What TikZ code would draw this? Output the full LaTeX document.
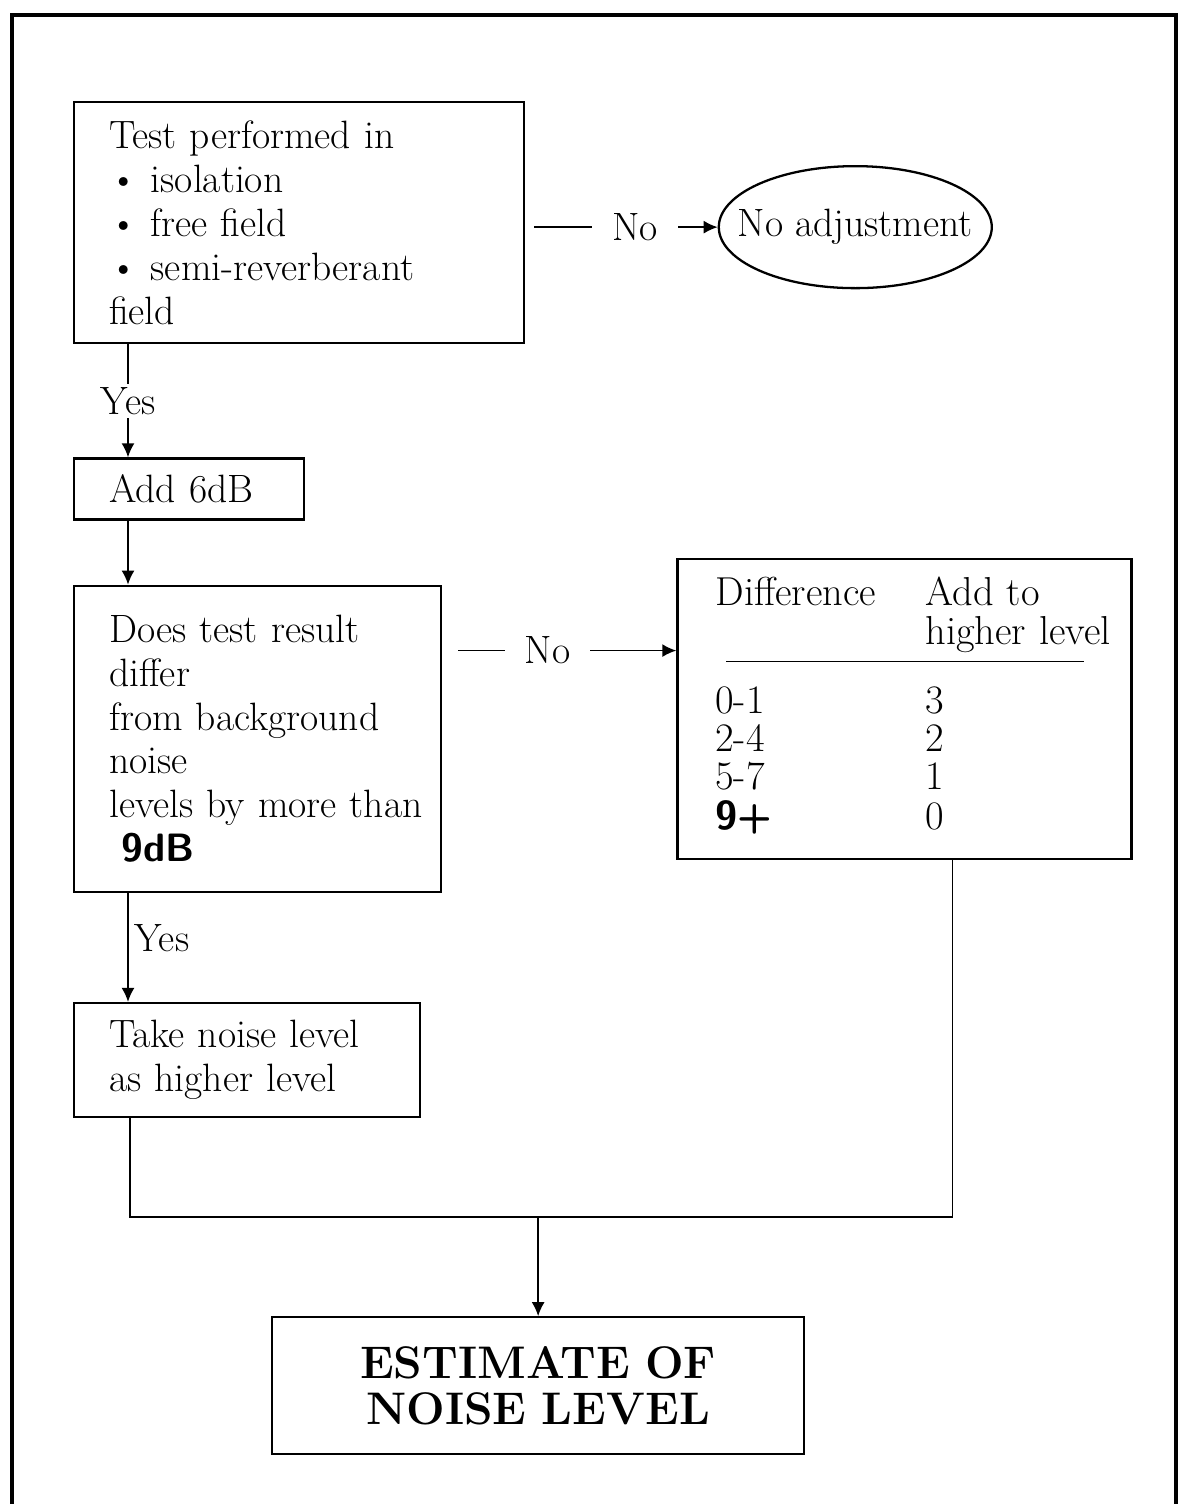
\documentclass[tikz,border=0pt]{standalone}
\usepackage{fontspec}
\usepackage{tikz}
\usetikzlibrary{arrows.meta,positioning,shapes.geometric,calc}
\newcommand{\bodysize}{\fontsize{22.5}{25}\selectfont}
\newcommand{\tablesize}{\fontsize{23}{20.9}\selectfont}
\tikzstyle{etape} = [draw, line width=1.3pt, align=left, inner xsep=0.7cm,
inner ysep=0pt, font=\bodysize, anchor=north west]
\tikzstyle{resultat} = [etape, align=center, inner xsep=0pt,
font=\bfseries\fontsize{26}{26.7}\selectfont]
\tikzstyle{ovale} = [draw, ellipse, line width=1.3pt, minimum width=5.46cm,
minimum height=2.44cm, inner sep=0pt, font=\bodysize]
\tikzstyle{texto} = [fill=white, inner xsep=0.4cm, inner ysep=2pt, font=\bodysize]
\tikzstyle{line} = [draw, line width=0.9pt, -{Latex[length=0.28cm, width=0.26cm]}]
\newcommand{\etape}[3]{node (p#2)[etape,#1]{#3}}
\newcommand{\ovale}[2]{node (p#1)[ovale]{\makebox[0pt]{#2}}}
\newcommand{\resultat}[2]{node (p#1)[resultat,text width=10.64cm,minimum height=2.74cm]{#2}}
\begin{document}
\begin{tikzpicture}
	\useasboundingbox (0,0) rectangle (23.58,-30.08);
	% outer frame, open at the bottom
	\draw[line width=2.2pt] (0.24,-30.08) -- (0.24,-0.30) -- (23.52,-0.30) -- (23.52,-30.08);
	
	% Draw diagram elements
	\path (1.46,-2.02) \etape{text width=7.6cm, minimum height=4.82cm}{1}{Test performed in\\
		\textbullet\ isolation\\ \textbullet\ free field\\ \textbullet\ semi-reverberant\\ field};
	\path (p1.east)+(6.6,-0.09) \ovale{5}{No adjustment};
	\path (p1.south west)+(0,-2.26) \etape{text width=3.2cm, minimum height=1.22cm}{2}{Add 6dB};
	\path (p2.south west)+(0,-1.28) \etape{text width=5.94cm, minimum height=6.12cm}{3}{Does test result\\
		differ\\ from background\\ noise\\ levels~by~more~than\\ \hspace*{0.25cm}\textsf{\bfseries 9dB}};
	\path (p3.north east)+(4.68,0.54) \etape{text width=7.56cm, inner xsep=0.76cm, minimum height=6.0cm}{6}{\tablesize
		\begin{tabular}{@{}p{4.2cm}@{}l@{}}
			Difference & Add to\\
			& higher level\\[0.62cm]
			0-1 & 3\\
			2-4 & 2\\
			5-7 & 1\\
			\textsf{\bfseries 9+} & 0
	\end{tabular}};
	\draw[line width=1pt] ($(p6.north west)+(1.0,-2.08)$) -- ($(p6.north west)+(8.16,-2.08)$);
	\path (p3.south west)+(0,-2.18) \etape{text width=5.52cm, minimum height=2.28cm}{4}{Take noise level\\ as higher level};
	\path (p4.south west)+(3.96,-3.96) \resultat{7}{ESTIMATE OF\\ NOISE LEVEL};
	
	% Draw arrows between elements
	\path [line, shorten <=0.18cm] (p1.east |- p5.west) -- node [texto, pos=0.57]{No} (p5.west);
	\path [line] ([xshift=1.1cm]p1.south west) -- node [texto, inner xsep=2pt]{Yes} ([xshift=1.1cm]p2.north west);
	\path [line] ([xshift=1.1cm]p2.south west) -- ([xshift=1.1cm]p3.north west);
	\path [line, shorten <=0.32cm] ([yshift=-1.32cm]p3.north east) -- node [texto, pos=0.45]{No} ([yshift=-1.86cm]p6.north west);
	\path [line] ([xshift=1.1cm]p3.south west) -- node [right, pos=0.42, font=\bodysize]{Yes} ([xshift=1.1cm]p4.north west);
	\coordinate (j) at ($(p7.north)+(0,1.98)$);
	\draw [line width=0.9pt] ([xshift=1.14cm]p4.south west) |- (j) -| ([xshift=5.52cm]p6.south west);
	\path [line] (j) -- (p7.north);
	
\end{tikzpicture}
\end{document}
